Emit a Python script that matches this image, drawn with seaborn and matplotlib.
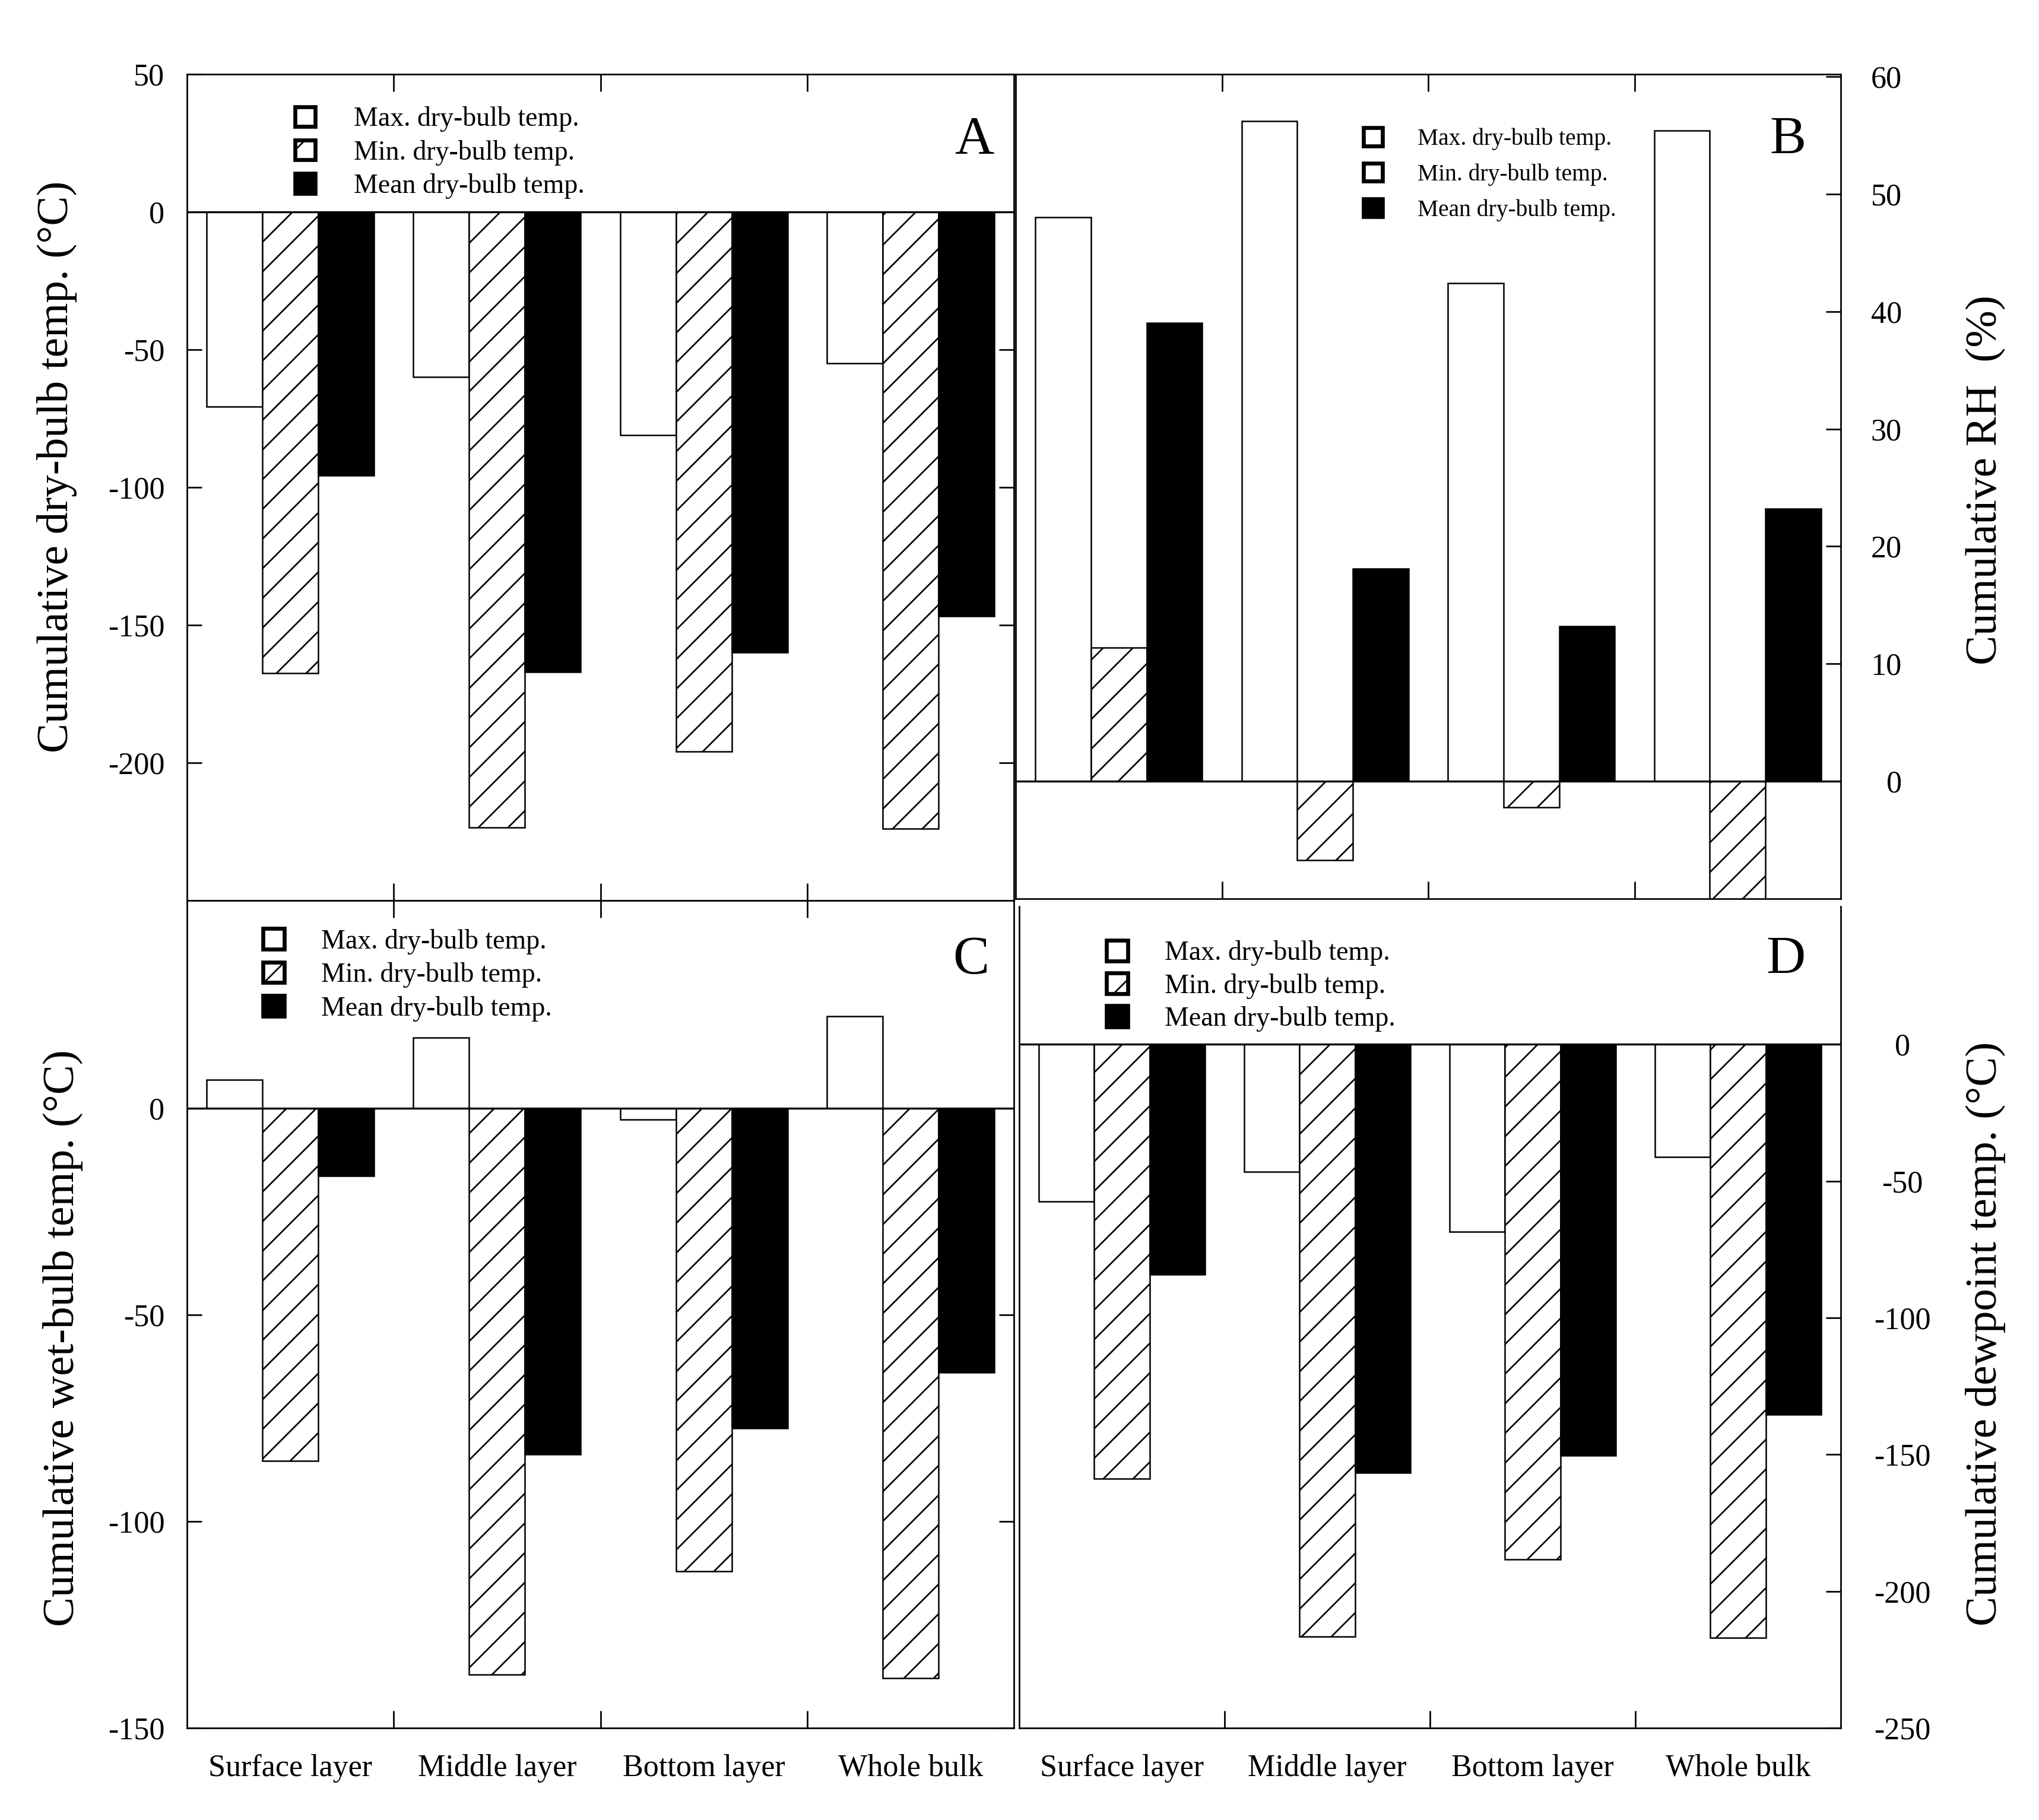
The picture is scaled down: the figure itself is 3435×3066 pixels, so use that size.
import numpy as np
import pandas as pd
import matplotlib
matplotlib.use('Agg')
import matplotlib.pyplot as plt
from matplotlib.patches import Patch
import seaborn as sns

# categories and series
layers = ['Surface layer', 'Middle layer', 'Bottom layer', 'Whole bulk']
series = ['Max. dry-bulb temp.', 'Min. dry-bulb temp.', 'Mean dry-bulb temp.']

# A: cumulative dry-bulb temp (°C)
dry_max = [-70.6, -59.9, -81.0, -55.0]
dry_min = [-167.4, -223.5, -196.0, -224.0]
dry_mean = [-95.7, -167.0, -160.0, -146.7]

# B: cumulative RH (%)
rh_max = [48.0, 56.2, 42.4, 55.4]
rh_min = [11.4, -6.7, -2.2, -12.0]
rh_mean = [39.0, 18.1, 13.2, 23.2]

# C: cumulative wet-bulb temp (°C)
wet_max = [6.9, 17.1, -2.7, 22.3]
wet_min = [-85.3, -137.0, -112.0, -137.9]
wet_mean = [-16.4, -83.8, -77.4, -63.9]

# D: cumulative dewpoint temp (°C)
dew_max = [-57.5, -46.6, -68.5, -41.2]
dew_min = [-158.8, -216.5, -188.3, -217.0]
dew_mean = [-84.2, -156.6, -150.3, -135.4]

sns.set_style('ticks', {'axes.edgecolor': 'black', 'xtick.color': 'black',
                        'ytick.color': 'black', 'text.color': 'black',
                        'axes.labelcolor': 'black'})
plt.rcParams['font.family'] = ['Liberation Serif', 'DejaVu Serif']
plt.rcParams['axes.unicode_minus'] = False
plt.rcParams['hatch.linewidth'] = 0.65
plt.rcParams['axes.linewidth'] = 0.65

W, H = 3435, 3066
fig = plt.figure(figsize=(W / 300, H / 300), dpi=300)


def rect(x0, y0, x1, y1):
    # pixel box (top-left origin) -> figure fraction
    return [x0 / W, 1 - y1 / H, (x1 - x0) / W, (y1 - y0) / H]


ax_a = fig.add_axes(rect(315, 125, 1708, 1517))
ax_b = fig.add_axes(rect(1711, 125, 3101, 1514))
ax_c = fig.add_axes(rect(315, 1517, 1708, 2911))
ax_d = fig.add_axes(rect(1717, 1527, 3101, 2911))

styles = [('white', ''), ('white', '//'), ('black', '')]


def draw_bars(ax, vmax, vmin, vmean):
    df = pd.DataFrame({
        'layer': layers * 3,
        'series': np.repeat(series, len(layers)),
        'value': vmax + vmin + vmean,
    })
    sns.barplot(data=df, x='layer', y='value', hue='series', order=layers,
                hue_order=series, width=0.81, dodge=True, legend=False,
                errorbar=None, saturation=1, ax=ax)
    bars = sorted(ax.patches, key=lambda p: p.get_x())
    for i, bar in enumerate(bars):
        fc, hatch = styles[i % 3]
        bar.set_facecolor(fc)
        bar.set_edgecolor('black')
        bar.set_linewidth(0.6)
        bar.set_hatch(hatch)
    ax.axhline(0, color='black', lw=0.8, zorder=3)
    ax.set_xlim(-0.5, 3.5)
    ax.set_xticks(range(len(layers)))
    ax.set_xticks([0.5, 1.5, 2.5], minor=True)
    ax.tick_params(axis='x', which='major', length=0, pad=10.5, labelsize=12.5)
    ax.tick_params(axis='x', which='minor', direction='in', length=7,
                   width=0.65, top=True, bottom=True)
    ax.set_xlabel('')


def add_legend(ax, xy, fs, hlen, pad, spacing, hatch_min=True):
    handles = [Patch(facecolor='white', edgecolor='black', linewidth=1.6),
               Patch(facecolor='white', edgecolor='black', linewidth=1.6,
                     hatch='//' if hatch_min else ''),
               Patch(facecolor='black', edgecolor='black', linewidth=1.6)]
    ax.legend(handles, series, loc='upper left', bbox_to_anchor=xy,
              frameon=False, fontsize=fs, handlelength=hlen, handleheight=hlen,
              handletextpad=pad, labelspacing=spacing, borderpad=0,
              borderaxespad=0)


# ---- A ----
draw_bars(ax_a, dry_max, dry_min, dry_mean)
ax_a.set_ylim(-250, 50)
ax_a.set_yticks([50, 0, -50, -100, -150, -200])
ax_a.tick_params(axis='y', direction='in', length=6, width=0.65, left=True,
                 right=True, pad=9, labelsize=12.5)
ax_a.set_xticklabels([])
ax_a.set_ylabel('Cumulative dry-bulb temp. (°C)', fontsize=18, va='center')
ax_a.yaxis.set_label_coords(-0.157, 0.525)
add_legend(ax_a, (0.1307, 0.961), 11, 0.75, 1.4, 0.29)
ax_a.text(0.976, 0.904, 'A', transform=ax_a.transAxes, fontsize=22,
          ha='right', va='baseline')

# ---- B ----
draw_bars(ax_b, rh_max, rh_min, rh_mean)
ax_b.set_ylim(-10, 60.2)
ax_b.set_yticks([0, 10, 20, 30, 40, 50, 60])
ax_b.yaxis.set_label_position('right')
ax_b.tick_params(axis='y', direction='in', length=6, width=0.65, left=False,
                 right=True, labelleft=False, labelright=True, pad=24.7,
                 labelsize=12.5)
for lab in ax_b.get_yticklabels():
    lab.set_ha('right')
ax_b.set_xticklabels([])
ax_b.set_ylabel('Cumulative RH  (%)', fontsize=18, rotation=90,
                va='center', ha='center')
ax_b.yaxis.set_label_coords(1.176, 0.508)
add_legend(ax_b, (0.4216, 0.935), 9.5, 0.8, 1.5, 0.55, hatch_min=False)
ax_b.text(0.958, 0.9035, 'B', transform=ax_b.transAxes, fontsize=22,
          ha='right', va='baseline')

# ---- C ----
draw_bars(ax_c, wet_max, wet_min, wet_mean)
ax_c.set_ylim(-150, 50.3)
ax_c.set_yticks([0, -50, -100, -150])
ax_c.tick_params(axis='y', direction='in', length=6, width=0.65, left=True,
                 right=True, pad=9, labelsize=12.5)
ax_c.set_xticklabels(layers)
ax_c.set_ylabel('Cumulative wet-bulb temp. (°C)', fontsize=18, va='center')
ax_c.yaxis.set_label_coords(-0.150, 0.471)
add_legend(ax_c, (0.0919, 0.966), 11, 0.78, 1.35, 0.29)
ax_c.text(0.970, 0.912, 'C', transform=ax_c.transAxes, fontsize=22,
          ha='right', va='baseline')

# ---- D ----
draw_bars(ax_d, dew_max, dew_min, dew_mean)
ax_d.set_ylim(-250, 50.4)
ax_d.set_yticks([0, -50, -100, -150, -200, -250])
ax_d.yaxis.set_label_position('right')
ax_d.tick_params(axis='y', direction='in', length=6, width=0.65, left=False,
                 right=True, labelleft=False, labelright=True, pad=25,
                 labelsize=12.5)
for lab in ax_d.get_yticklabels():
    lab.set_ha('center')
ax_d.set_xticklabels(layers)
ax_d.spines['top'].set_visible(False)
ax_d.tick_params(axis='x', which='minor', top=False)
ax_d.set_ylabel('Cumulative dewpoint temp. (°C)', fontsize=18, rotation=90,
                va='center', ha='center')
ax_d.yaxis.set_label_coords(1.176, 0.480)
add_legend(ax_d, (0.106, 0.959), 11, 0.8, 1.35, 0.26)
ax_d.text(0.957, 0.918, 'D', transform=ax_d.transAxes, fontsize=22,
          ha='right', va='baseline')

fig.savefig('out.png', dpi=300)
